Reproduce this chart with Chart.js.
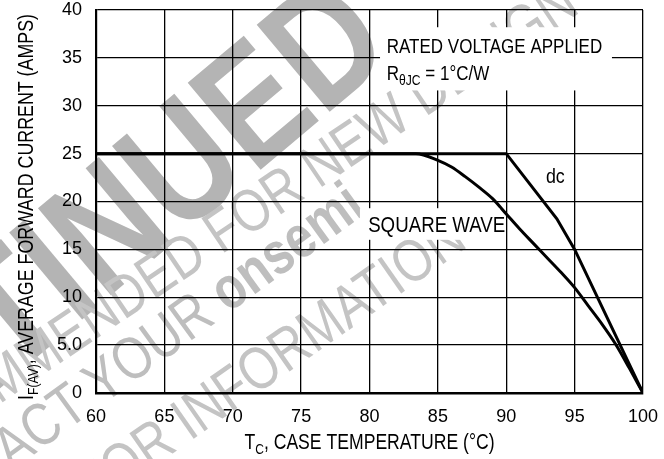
<!DOCTYPE html>
<html>
<head>
<meta charset="utf-8">
<script src="https://cdn.jsdelivr.net/npm/chart.js@4.4.1/dist/chart.umd.min.js"></script>
<style>
  body { margin: 0; background: #fff; }
  #wrap { width: 664px; height: 459px; }
</style>
</head>
<body>
<div id="wrap"><canvas id="chart" width="664" height="459"></canvas></div>
<script>
// values
const dcTemp = [60, 90, 93.7, 95, 100];
const dcAmps = [25, 25, 18.2, 15, 0];
const sqTemp = [60, 83.4, 85, 86, 87, 88, 89, 90, 91, 92, 93, 94, 95, 96, 97, 98, 99, 100];
const sqAmps = [25, 25, 24.3, 23.6, 22.6, 21.5, 20.3, 18.7, 17.1, 15.6, 14.1, 12.6, 11.0, 9.1, 7.2, 5.1, 2.6, 0];
const xTicks = [60, 65, 70, 75, 80, 85, 90, 95, 100];
const yTicks = [0, 5, 10, 15, 20, 25, 30, 35, 40];

// no condensed face installed, so hand-drawn text is squeezed horizontally
const FONT = "'Liberation Sans', Arial, sans-serif";

function toPoints(xs, ys) {
  return xs.map((x, i) => ({ x: x, y: ys[i] }));
}

// text made of pieces (for subscripts), alphabetic baseline, squeezed by sx
function richWidth(ctx, segs, sx) {
  let w = 0;
  segs.forEach(s => { ctx.font = s.font; w += ctx.measureText(s.t).width; });
  return w * sx;
}
function drawRich(ctx, x, y, segs, sx) {
  ctx.save();
  ctx.translate(x, y);
  ctx.scale(sx, 1);
  let cx = 0;
  segs.forEach(s => {
    ctx.font = s.font;
    ctx.fillText(s.t, cx, s.dy || 0);
    cx += ctx.measureText(s.t).width;
  });
  ctx.restore();
}

// watermark line, the centre of part "anchor" lands at (ax, ay)
function wmLine(ctx, parts, anchor, ax, ay, deg, color, sx) {
  ctx.save();
  ctx.fillStyle = color;
  ctx.textBaseline = 'middle';
  ctx.textAlign = 'left';
  let off = 0;
  parts.forEach((p, i) => {
    ctx.font = p.font;
    const w = ctx.measureText(p.t).width;
    if (i < anchor) off += w;
    if (i === anchor) off += w / 2;
  });
  ctx.translate(ax, ay);
  ctx.rotate(-deg * Math.PI / 180);
  ctx.scale(sx, 1);
  let x = -off;
  parts.forEach(p => {
    ctx.font = p.font;
    ctx.fillText(p.t, x, 0);
    x += ctx.measureText(p.t).width;
  });
  ctx.restore();
}

const watermark = {
  id: 'watermark',
  beforeDraw(chart) {
    const ctx = chart.ctx;
    const big = 'bold 165px ' + FONT;
    const reg = '60px ' + FONT;
    const regB = 'bold 60px ' + FONT;
    wmLine(ctx, [{ t: 'DISCONTIN', font: big }, { t: 'U', font: big }, { t: 'ED', font: big }],
      1, 187, 172, 40, '#b4b4b4', 0.82);
    wmLine(ctx, [{ t: 'NOT RECOMMENDED ', font: reg }, { t: 'FOR', font: reg }, { t: ' NEW DESIGN', font: reg }],
      1, 255, 212, 34, '#c4c4c4', 0.82);
    wmLine(ctx, [{ t: 'CONTACT ', font: reg }, { t: 'YOUR', font: reg }, { t: ' ', font: reg }, { t: 'onsemi', font: regB }],
      1, 150, 350, 36, '#bebebe', 0.82);
    wmLine(ctx, [{ t: 'REPRESENTATIVE FOR ', font: reg }, { t: 'INFORMATION', font: reg }],
      1, 320, 330, 35, '#c4c4c4', 0.82);
  }
};

const notes = {
  id: 'notes',
  afterDatasetsDraw(chart) {
    const ctx = chart.ctx;
    const xs = chart.scales.x, ys = chart.scales.y;
    const px = v => xs.getPixelForValue(v);
    const py = v => ys.getPixelForValue(v);
    ctx.save();
    ctx.fillStyle = '#fff';
    ctx.fillRect(px(80.77), py(38.2), px(97.73) - px(80.77), py(31.6) - py(38.2));
    ctx.fillRect(px(79.3), py(19.3), px(89.5) - px(79.3), py(16.0) - py(19.3));
    ctx.fillStyle = '#000';
    ctx.textBaseline = 'alphabetic';
    ctx.textAlign = 'left';
    drawRich(ctx, px(81.26), py(35.47), [{ t: 'RATED VOLTAGE APPLIED', font: '21px ' + FONT }], 0.81);
    drawRich(ctx, px(81.26), py(32.7), [
      { t: 'R', font: '21px ' + FONT },
      { t: 'θJC', font: '15px ' + FONT, dy: 5 },
      { t: ' = 1°C/W', font: '21px ' + FONT }
    ], 0.81);
    drawRich(ctx, px(79.9), py(16.85), [{ t: 'SQUARE WAVE', font: '22px ' + FONT }], 0.85);
    drawRich(ctx, px(92.9), py(21.9), [{ t: 'dc', font: '21px ' + FONT }], 0.85);
    ctx.restore();
  },
  afterDraw(chart) {
    const ctx = chart.ctx;
    const area = chart.chartArea;
    ctx.save();
    ctx.fillStyle = '#000';
    ctx.textBaseline = 'alphabetic';
    ctx.textAlign = 'left';
    const xt = [
      { t: 'T', font: '22px ' + FONT },
      { t: 'C', font: '15px ' + FONT, dy: 5 },
      { t: ', CASE TEMPERATURE (°C)', font: '22px ' + FONT }
    ];
    const xw = richWidth(ctx, xt, 0.8);
    drawRich(ctx, (area.left + area.right) / 2 - xw / 2, 449, xt, 0.8);

    const yt = [
      { t: 'I', font: '22px ' + FONT },
      { t: 'F(AV)', font: '15px ' + FONT, dy: 5 },
      { t: ', AVERAGE FORWARD CURRENT (AMPS)', font: '22px ' + FONT }
    ];
    const yw = richWidth(ctx, yt, 0.81);
    ctx.translate(33, 207);
    ctx.rotate(-Math.PI / 2);
    drawRich(ctx, -yw / 2, 0, yt, 0.81);
    ctx.restore();
  }
};

new Chart(document.getElementById('chart'), {
  type: 'line',
  data: {
    datasets: [
      {
        label: 'dc',
        data: toPoints(dcTemp, dcAmps),
        borderColor: '#000',
        borderWidth: 3,
        pointRadius: 0,
        tension: 0,
        fill: false
      },
      {
        label: 'SQUARE WAVE',
        data: toPoints(sqTemp, sqAmps),
        borderColor: '#000',
        borderWidth: 3,
        pointRadius: 0,
        cubicInterpolationMode: 'monotone',
        fill: false
      }
    ]
  },
  options: {
    responsive: false,
    animation: false,
    devicePixelRatio: 1,
    layout: { padding: { top: 10, right: 21, left: 0, bottom: 0 } },
    plugins: { legend: { display: false }, tooltip: { enabled: false } },
    scales: {
      x: {
        type: 'linear',
        min: 60,
        max: 100,
        afterBuildTicks: s => { s.ticks = xTicks.map(v => ({ value: v })); },
        afterFit: s => { s.height = 66; s.paddingLeft = 0; s.paddingRight = 0; },
        grid: { color: '#000', lineWidth: 1.3, drawTicks: false },
        border: { display: true, color: '#000', width: 2.4 },
        ticks: { color: '#000', padding: 13, maxRotation: 0, font: { family: FONT, size: 18 } }
      },
      y: {
        min: 0,
        max: 40,
        afterBuildTicks: s => { s.ticks = yTicks.map(v => ({ value: v })); },
        afterFit: s => { s.width = 96; s.paddingTop = 0; s.paddingBottom = 0; },
        grid: { color: '#000', lineWidth: 1.3, drawTicks: false },
        border: { display: true, color: '#000', width: 2.2 },
        ticks: {
          color: '#000',
          padding: 14,
          font: { family: FONT, size: 18 },
          callback: v => (v === 5 ? '5.0' : v)
        }
      }
    }
  },
  plugins: [watermark, notes]
});
</script>
</body>
</html>
